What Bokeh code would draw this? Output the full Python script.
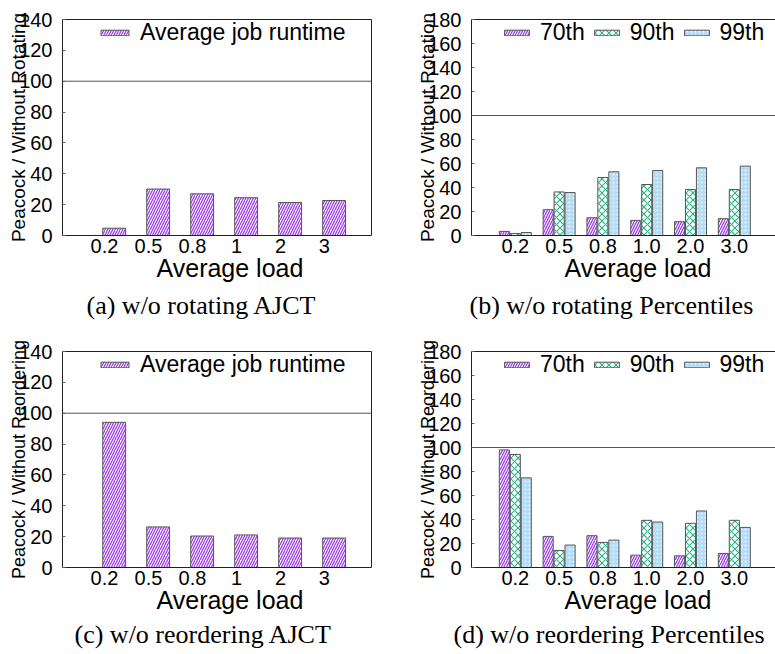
from bokeh.plotting import figure
from bokeh.layouts import column, row
from bokeh.models import (Range1d, FixedTicker, LinearAxis, Span, Title,
                          Legend, LegendItem)
from bokeh.embed import file_html
from bokeh.resources import INLINE

# ---------------- data ----------------
loads_ajct = ["0.2", "0.5", "0.8", "1", "2", "3"]
loads_pct = ["0.2", "0.5", "0.8", "1.0", "2.0", "3.0"]

rot_ajct = [4.7, 30.1, 27.0, 24.5, 21.4, 22.7]
rot_p70 = [3.4, 21.5, 14.8, 12.6, 11.5, 14.0]
rot_p90 = [1.7, 36.3, 48.3, 42.5, 38.3, 38.3]
rot_p99 = [2.5, 35.8, 53.1, 54.2, 56.4, 57.8]

reo_ajct = [94.1, 26.3, 20.4, 21.1, 19.1, 19.1]
reo_p70 = [98.0, 25.9, 26.5, 10.3, 9.7, 11.7]
reo_p90 = [94.2, 14.2, 20.9, 39.3, 36.8, 39.3]
reo_p99 = [74.7, 18.7, 22.8, 37.9, 47.1, 33.4]

ajct_ticks = [0, 20, 40, 60, 80, 100, 120, 140]
pct_ticks = [0, 20, 40, 60, 80, 100, 120, 140, 160, 180]

SANS = "Liberation Sans"
SERIF = "Liberation Serif"
FRAME = "#222222"

STY70 = dict(fill_color="white", hatch_pattern="/", hatch_color="#a040ec",
             hatch_scale=5, hatch_weight=1.3, line_color="#555555", line_width=1)
STY90 = dict(fill_color="white", hatch_pattern="x", hatch_color="#2eb488",
             hatch_scale=7, hatch_weight=1.2, line_color="#555555", line_width=1)
STY99 = dict(fill_color="#b4dcf4", hatch_pattern=".", hatch_color="#e6f4fd",
             hatch_scale=4, hatch_weight=1.0, line_color="#555555", line_width=1)


def base_fig(width, height, xr, yr, yticks, labels, ylabel, ylab_size, mleft, mright,
             mtop, mbottom, right_border, xlab_off, cap, cap_off, cap_standoff):
    p = figure(width=width, height=height, output_backend="svg", toolbar_location=None,
               x_range=Range1d(*xr), y_range=Range1d(*yr), tools="",
               min_border_left=mleft, min_border_right=mright,
               min_border_top=mtop, min_border_bottom=mbottom)
    p.outline_line_color = None
    p.background_fill_color = "white"
    p.border_fill_color = "white"
    p.xgrid.visible = False
    p.ygrid.visible = False
    # x axis
    xa = p.xaxis[0]
    xa.ticker = FixedTicker(ticks=list(range(len(labels))))
    xa.major_label_overrides = {i: t for i, t in enumerate(labels)}
    xa.major_tick_in = 0
    xa.major_tick_out = 0
    xa.minor_tick_line_color = None
    xa.axis_line_color = FRAME
    xa.major_label_text_font = SANS
    xa.major_label_text_font_size = "20px"
    xa.major_label_text_color = "black"
    xa.major_label_standoff = 3
    # y axis
    ya = p.yaxis[0]
    ya.ticker = FixedTicker(ticks=yticks)
    ya.major_tick_in = 3
    ya.major_tick_out = 0
    ya.major_tick_line_color = "#666666"
    ya.minor_tick_line_color = None
    ya.axis_line_color = FRAME
    ya.major_label_text_font = SANS
    ya.major_label_text_font_size = "20px"
    ya.major_label_text_color = "black"
    ya.major_label_standoff = 10
    ya.axis_label = ylabel
    ya.axis_label_text_font = SANS
    ya.axis_label_text_font_size = ylab_size
    ya.axis_label_text_font_style = "normal"
    ya.axis_label_text_color = "black"
    ya.axis_label_standoff = -13
    # top border
    top = LinearAxis(ticker=FixedTicker(ticks=[]), axis_line_color=FRAME,
                     major_tick_in=0, major_tick_out=0, minor_tick_line_color=None)
    p.add_layout(top, "above")
    if right_border:
        ra = LinearAxis(ticker=FixedTicker(ticks=[]), axis_line_color=FRAME,
                        major_tick_in=0, major_tick_out=0, minor_tick_line_color=None)
        p.add_layout(ra, "right")
    p.add_layout(Span(location=100, dimension="width", line_color="#555555", line_width=1))
    # x label and caption as titles below the axis
    p.add_layout(Title(text="Average load", text_font=SANS, text_font_size="25px",
                       text_font_style="normal", text_color="black", align="left",
                       vertical_align="top", offset=xlab_off, standoff=-4), "below")
    p.add_layout(Title(text=cap, text_font=SERIF, text_font_size="26px",
                       text_font_style="normal", text_color="black", align="left",
                       vertical_align="bottom", offset=cap_off, standoff=cap_standoff), "below")
    return p


def add_legend(p, items, vx, vy, gw, spacing):
    lg = Legend(items=items, location=(vx, vy), orientation="horizontal",
                glyph_width=gw, glyph_height=7, label_standoff=8, label_height=26,
                label_text_font=SANS, label_text_font_size="23px",
                label_text_color="black", padding=0, margin=0, spacing=spacing,
                border_line_alpha=0, background_fill_alpha=0)
    p.add_layout(lg)


def ajct_fig(vals, ylabel, ylab_size, cap, cap_off, height, mtop, mbottom, cap_standoff):
    p = base_fig(395, height, (-0.955, 6.07), (0, 140), ajct_ticks, loads_ajct, ylabel,
                 ylab_size, 62, 24, mtop, mbottom, True, 94, cap, cap_off, cap_standoff)
    xs = [i + 0.22 for i in range(len(vals))]
    r = p.vbar(x=xs, top=vals, width=0.52, bottom=0, **STY70)
    add_legend(p, [LegendItem(label="Average job runtime", renderers=[r])], 35, 189, 35, 0)
    return p


def pct_fig(v70, v90, v99, ylabel, ylab_size, cap, cap_off, height, mtop, mbottom, cap_standoff):
    p = base_fig(380, height, (-1.0, 5.94), (0, 180), pct_ticks, loads_pct, ylabel,
                 ylab_size, 76, 0, mtop, mbottom, False, 93, cap, cap_off, cap_standoff)
    n = len(v70)
    r1 = p.vbar(x=[i - 0.25 for i in range(n)], top=v70, width=0.23, bottom=0, **STY70)
    r2 = p.vbar(x=[i for i in range(n)], top=v90, width=0.23, bottom=0, **STY90)
    r3 = p.vbar(x=[i + 0.25 for i in range(n)], top=v99, width=0.23, bottom=0, **STY99)
    add_legend(p, [LegendItem(label="70th", renderers=[r1]),
                   LegendItem(label="90th", renderers=[r2]),
                   LegendItem(label="99th", renderers=[r3])], 30, 189, 31, 6)
    return p


pa = ajct_fig(rot_ajct, "Peacock / Without Rotating", "19px",
              "(a) w/o rotating AJCT", 24, 335, 19, 100, 14)
pb = pct_fig(rot_p70, rot_p90, rot_p99, "Peacock / Without Rotation", "19px",
             "(b) w/o rotating Percentiles", -2, 335, 19, 100, 14)
pc = ajct_fig(reo_ajct, "Peacock / Without Reordering", "18px",
              "(c) w/o reordering AJCT", 12, 319, 16, 87, 8)
pd = pct_fig(reo_p70, reo_p90, reo_p99, "Peacock / Without Reordering", "18px",
             "(d) w/o reordering Percentiles", -18, 319, 16, 87, 8)

layout = column(row(pa, pb, spacing=0), row(pc, pd, spacing=0), spacing=0)

open("out.html", "w").write(file_html(layout, INLINE))
